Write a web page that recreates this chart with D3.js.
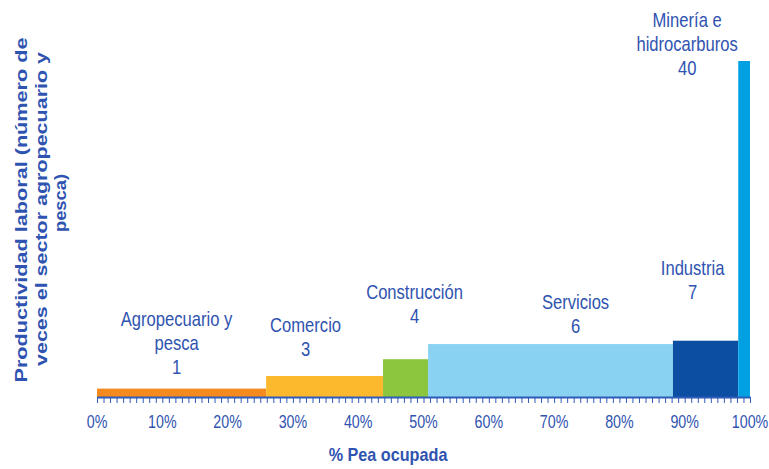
<!DOCTYPE html>
<html>
<head>
<meta charset="utf-8">
<script src="https://cdn.jsdelivr.net/npm/d3@7"></script>
<style>
  body { margin: 0; background: #fff; }
  text { font-family: "Liberation Sans", Arial, sans-serif; fill: #2f53b0; }
</style>
</head>
<body>
<svg id="chart" width="769" height="469"></svg>
<script>
// sectors, share of employed PEA (%) and productivity (times agro sector)
var sectors = ["Agropecuario y pesca", "Comercio", "Construcción", "Servicios", "Industria", "Minería e hidrocarburos"];
var labelLines = [["Agropecuario y", "pesca"], ["Comercio"], ["Construcción"], ["Servicios"], ["Industria"], ["Minería e", "hidrocarburos"]];
var labelValues = ["1", "3", "4", "6", "7", "40"];
var peaShare = [25.9, 17.9, 6.9, 37.5, 10.0, 1.8];
var productivity = [1, 2.5, 4.5, 6.3, 6.7, 40];
var xTicks = [0, 10, 20, 30, 40, 50, 60, 70, 80, 90, 100];

var colors = ["#f58a1f", "#fdb92e", "#8cc63f", "#8ad2f1", "#0b4ea2", "#00a0e3"];
// label offsets from bar centre / bar top (px)
var labelOffset = [[-5, 15], [-19, 20], [9, 36], [25, 11], [-13, 42], [-57, -14]];

var svg = d3.select("#chart");
var blue = "#2f5cb8";

var x = d3.scaleLinear().domain([0, 100]).range([97, 750]);
var y = d3.scaleLinear().domain([0, 40]).range([397, 61]);

var cum = 0;
var bars = sectors.map(function(s, i) {
    var b = { name: s, x0: cum, x1: cum + peaShare[i], v: productivity[i], i: i };
    cum += peaShare[i];
    return b;
});

svg.append("g").selectAll("rect")
    .data(bars)
    .enter().append("rect")
    .attr("x", function(d) { return x(d.x0); })
    .attr("width", function(d) { return x(d.x1) - x(d.x0); })
    .attr("y", function(d) { return y(d.v); })
    .attr("height", function(d) { return y(0) - y(d.v); })
    .style("fill", function(d) { return colors[d.i]; });

// axis with a small tick every 1%
var axis = svg.append("g")
    .attr("transform", "translate(0," + y(0) + ")")
    .call(d3.axisBottom(x).tickValues(d3.range(0, 101, 1)).tickSize(6).tickSizeOuter(0).tickFormat(""));
axis.select(".domain").attr("stroke", blue).attr("stroke-width", 2);
axis.selectAll(".tick line").attr("stroke", blue).attr("stroke-width", 1);

svg.append("g").selectAll("g")
    .data(xTicks)
    .enter().append("g")
    .attr("transform", function(d) { return "translate(" + x(d) + ",428) scale(0.75,1)"; })
  .append("text")
    .attr("text-anchor", "middle")
    .style("font-size", "19px")
    .text(function(d) { return d + "%"; });

// bar labels
var lh = 24;
var labels = svg.append("g").selectAll("g")
    .data(bars)
    .enter().append("g")
    .attr("transform", function(d) {
        var off = labelOffset[d.i];
        var cx = (x(d.x0) + x(d.x1)) / 2 + off[0];
        var top = y(d.v) - off[1] - labelLines[d.i].length * lh;
        return "translate(" + cx + "," + top + ") scale(0.83,1)";
    });

labels.each(function(d) {
    var g = d3.select(this);
    labelLines[d.i].concat([labelValues[d.i]]).forEach(function(t, k) {
        g.append("text")
            .attr("text-anchor", "middle")
            .attr("y", k * lh)
            .style("font-size", "20px")
            .text(t);
    });
});

// axis titles
svg.append("g")
    .attr("transform", "translate(388,461) scale(0.9,1)")
  .append("text")
    .attr("text-anchor", "middle")
    .style("font-size", "18px")
    .style("font-weight", "bold")
    .text("% Pea ocupada");

var yTitle = [
    { t: "Productividad laboral (número de", bx: 27, cy: 210, len: 345 },
    { t: "veces el sector agropecuario y", bx: 47, cy: 209, len: 314 },
    { t: "pesca)", bx: 66, cy: 203, len: 58 }
];
svg.append("g").selectAll("text")
    .data(yTitle)
    .enter().append("text")
    .attr("transform", function(d) { return "translate(" + d.bx + "," + d.cy + ") rotate(-90)"; })
    .attr("text-anchor", "middle")
    .attr("textLength", function(d) { return d.len; })
    .attr("lengthAdjust", "spacingAndGlyphs")
    .style("font-size", "16px")
    .style("font-weight", "bold")
    .text(function(d) { return d.t; });
</script>
</body>
</html>
